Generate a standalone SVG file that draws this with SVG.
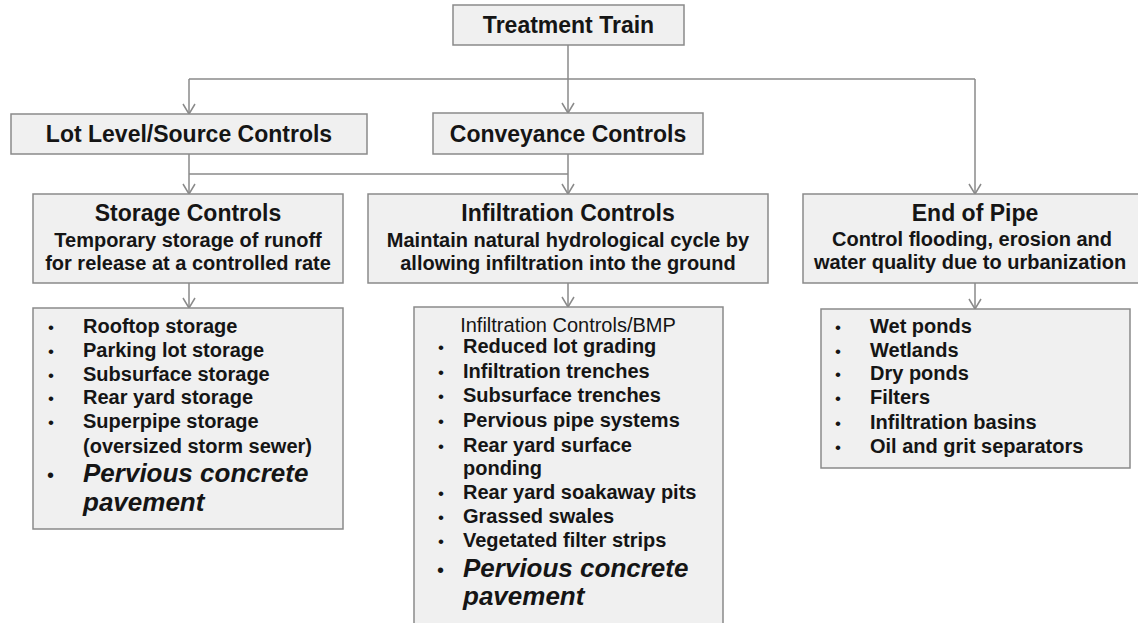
<svg xmlns="http://www.w3.org/2000/svg" width="1138" height="623" viewBox="0 0 1138 623">
<style>
.box{fill:#f0f0f0;stroke:#8a8a8a;stroke-width:1.5}
.t{font-family:"Liberation Sans",Arial,sans-serif;font-weight:bold;fill:#151515}
.h{font-size:23px;text-anchor:middle}
.s{font-size:20px;text-anchor:middle}
.li{font-size:20px}
.b{font-family:"Liberation Sans",Arial,sans-serif;font-size:17px;fill:#151515}
.it{font-size:26px;font-style:italic}
.reg{font-weight:normal;font-size:20px;text-anchor:middle}
.c{fill:none;stroke:#8a8a8a;stroke-width:1.5}
</style>
<defs>
<marker id="arr" markerUnits="userSpaceOnUse" markerWidth="14" markerHeight="16" viewBox="-12 -8 14 16" refX="0" refY="0" orient="auto">
<path d="M-10,-6 L0,0 L-10,6" fill="none" stroke="#8a8a8a" stroke-width="1.5"/>
</marker>
</defs>
<rect width="1138" height="623" fill="#fff"/>
<g id="connectors">
<path class="c" d="M568,45 V113" marker-end="url(#arr)"/>
<path class="c" d="M189,79 H975"/>
<path class="c" d="M189,79 V114" marker-end="url(#arr)"/>
<path class="c" d="M975,79 V194" marker-end="url(#arr)"/>
<path class="c" d="M189,154 V194" marker-end="url(#arr)"/>
<path class="c" d="M189,174 H568"/>
<path class="c" d="M568,154 V194" marker-end="url(#arr)"/>
<path class="c" d="M189,283 V308" marker-end="url(#arr)"/>
<path class="c" d="M568,283 V307" marker-end="url(#arr)"/>
<path class="c" d="M975,283 V309" marker-end="url(#arr)"/>
</g>
<g id="treatment-train">
<rect class="box" x="453" y="5" width="231" height="40"/>
<text class="t h" x="568.5" y="33">Treatment Train</text>
</g>
<g id="lot-level">
<rect class="box" x="11" y="114" width="356" height="40"/>
<text class="t h" x="189" y="142">Lot Level/Source Controls</text>
</g>
<g id="conveyance">
<rect class="box" x="433" y="113" width="270" height="41"/>
<text class="t h" x="568" y="142">Conveyance Controls</text>
</g>
<g id="storage-controls">
<rect class="box" x="33" y="194" width="310" height="89"/>
<text class="t h" x="188" y="221">Storage Controls</text>
<text class="t s" x="188" y="247">Temporary storage of runoff</text>
<text class="t s" x="188" y="270">for release at a controlled rate</text>
</g>
<g id="infiltration-controls">
<rect class="box" x="368" y="194" width="400" height="89"/>
<text class="t h" x="568" y="221">Infiltration Controls</text>
<text class="t s" x="568" y="247">Maintain natural hydrological cycle by</text>
<text class="t s" x="568" y="270">allowing infiltration into the ground</text>
</g>
<g id="end-of-pipe">
<rect class="box" x="803" y="194" width="344" height="89"/>
<text class="t h" x="975" y="221">End of Pipe</text>
<text class="t s" x="972" y="246">Control flooding, erosion and</text>
<text class="t s" x="970" y="269">water quality due to urbanization</text>
</g>
<g id="storage-list">
<rect class="box" x="33" y="308" width="310" height="221"/>
<g class="b">
<text x="48" y="333">•</text>
<text x="48" y="357">•</text>
<text x="48" y="381">•</text>
<text x="48" y="404">•</text>
<text x="48" y="428">•</text>
<text x="47" y="482" font-size="20">•</text>
</g>
<g class="t li">
<text x="83" y="333">Rooftop storage</text>
<text x="83" y="357">Parking lot storage</text>
<text x="83" y="381">Subsurface storage</text>
<text x="83" y="404">Rear yard storage</text>
<text x="83" y="428">Superpipe storage</text>
<text x="83" y="453">(oversized storm sewer)</text>
</g>
<text class="t it" x="83" y="482">Pervious concrete</text>
<text class="t it" x="83" y="511">pavement</text>
</g>
<g id="infiltration-list">
<rect class="box" x="414" y="307" width="309" height="330"/>
<text class="t reg" x="568" y="332">Infiltration Controls/BMP</text>
<g class="b">
<text x="438" y="353">•</text>
<text x="438" y="378">•</text>
<text x="438" y="402">•</text>
<text x="438" y="427">•</text>
<text x="438" y="452">•</text>
<text x="438" y="499">•</text>
<text x="438" y="523">•</text>
<text x="438" y="547">•</text>
<text x="437" y="577" font-size="20">•</text>
</g>
<g class="t li">
<text x="463" y="353">Reduced lot grading</text>
<text x="463" y="378">Infiltration trenches</text>
<text x="463" y="402">Subsurface trenches</text>
<text x="463" y="427">Pervious pipe systems</text>
<text x="463" y="452">Rear yard surface</text>
<text x="463" y="475">ponding</text>
<text x="463" y="499">Rear yard soakaway pits</text>
<text x="463" y="523">Grassed swales</text>
<text x="463" y="547">Vegetated filter strips</text>
</g>
<text class="t it" x="463" y="577">Pervious concrete</text>
<text class="t it" x="463" y="605">pavement</text>
</g>
<g id="end-list">
<rect class="box" x="821" y="309" width="309" height="159"/>
<g class="b">
<text x="835" y="333">•</text>
<text x="835" y="357">•</text>
<text x="835" y="380">•</text>
<text x="835" y="404">•</text>
<text x="835" y="429">•</text>
<text x="835" y="453">•</text>
</g>
<g class="t li">
<text x="870" y="333">Wet ponds</text>
<text x="870" y="357">Wetlands</text>
<text x="870" y="380">Dry ponds</text>
<text x="870" y="404">Filters</text>
<text x="870" y="429">Infiltration basins</text>
<text x="870" y="453">Oil and grit separators</text>
</g>
</g>
</svg>
